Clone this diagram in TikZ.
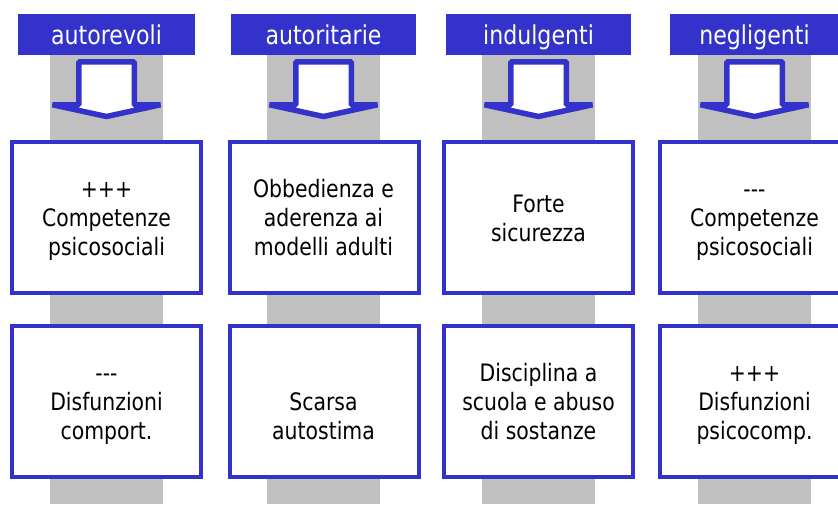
\documentclass[tikz,border=0pt]{standalone}
\usepackage{fontspec}
\setmainfont{DejaVu Sans}[FakeStretch=0.85]
\definecolor{hblue}{RGB}{51,51,204}
\definecolor{bargray}{RGB}{192,192,192}
\newcommand{\mlines}[1]{\begin{tabular}[t]{@{}c@{}}#1\end{tabular}}
\newcommand{\tdash}{-\kern0pt-\kern0pt-}
\begin{document}
\begin{tikzpicture}[x=1pt,y=-1pt,
  hdr/.style={fill=hblue, draw=none, minimum height=41pt, inner sep=0pt,
    text=white, font=\fontsize{26}{30}\selectfont, text height=19pt, text depth=0pt},
  box/.style={draw=hblue, line width=4pt, fill=white, minimum width=189pt,
    minimum height=151pt, inner sep=0pt},
  txt/.style={anchor=base, inner sep=0pt, font=\fontsize{24}{29}\selectfont},
  arr/.style={draw=hblue, fill=white, line width=5.5pt, line join=bevel},
  bar/.style={fill=bargray, draw=none}]
\useasboundingbox (0,0) rectangle (838,504);
% grey bars
\foreach \cx in {106.5,323.5,538.5,754.5}
  \fill[bar] (\cx-56.5,55) rectangle (\cx+56.5,504);
% arrows
\foreach \cx in {106.5,323.5,538.5,754.5}
  \draw[arr] (\cx-27.75,61.75) -- (\cx+27.75,61.75) -- (\cx+27.75,104.75)
     -- (\cx+54,104.75) -- (\cx,116.5) -- (\cx-54,104.75) -- (\cx-27.75,104.75) -- cycle;
% headers
\node[hdr, minimum width=177pt] (h1) at (106.5,34.5) {autorevoli};
\node[hdr, minimum width=185pt] (h2) at (323.5,34.5) {autoritarie};
\node[hdr, minimum width=185pt] (h3) at (538.5,34.5) {indulgenti};
\node[hdr, minimum width=169pt] (h4) at (754.5,34.5) {negligenti};
% boxes row 1
\node[box] (a1) at (106.5,217.5) {};
\node[box] (a2) at (324.5,217.5) {};
\node[box] (a3) at (538.5,217.5) {};
\node[box] (a4) at (754.5,217.5) {};
% boxes row 2
\node[box] (b1) at (106.5,401.5) {};
\node[box] (b2) at (324.5,401.5) {};
\node[box] (b3) at (538.5,401.5) {};
\node[box] (b4) at (754.5,401.5) {};
% texts row 1
\node[txt] (ta1) at (106.5,197) {\mlines{+++\\Competenze\\psicosociali}};
\node[txt] (ta2) at (323.5,197) {\mlines{Obbedienza e\\aderenza ai\\modelli adulti}};
\node[txt] (ta3) at (538.5,212) {\mlines{Forte\\sicurezza}};
\node[txt] (ta4) at (754.5,197) {\mlines{\tdash\\Competenze\\psicosociali}};
% texts row 2
\node[txt] (tb1) at (106.5,381.5) {\mlines{\tdash\\Disfunzioni\\comport.}};
\node[txt] (tb2) at (323.5,410.5) {\mlines{Scarsa\\autostima}};
\node[txt] (tb3) at (538.5,381.5) {\mlines{Disciplina a\\scuola e abuso\\di sostanze}};
\node[txt] (tb4) at (754.5,381.5) {\mlines{+++\\Disfunzioni\\psicocomp.}};
\end{tikzpicture}
\end{document}
